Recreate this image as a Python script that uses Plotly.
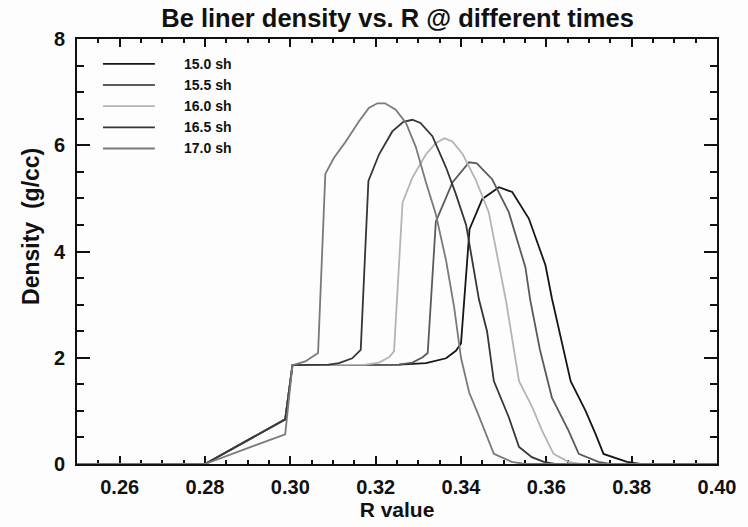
import plotly.graph_objects as go

# Be liner density profiles vs. radius at five times (shakes)
times = ["15.0 sh", "15.5 sh", "16.0 sh", "16.5 sh", "17.0 sh"]
colors = ["#161616", "#5a5a5a", "#b4b4b4", "#363636", "#7a7a7a"]

r_150 = [0.25, 0.28, 0.2988, 0.3005, 0.3255, 0.3318, 0.3365, 0.3388, 0.3400, 0.3420,
         0.3450, 0.3489, 0.3520, 0.3559, 0.3598, 0.3613, 0.3657, 0.3692, 0.3715, 0.3734,
         0.3789, 0.3820, 0.40]
d_150 = [0, 0, 0.84, 1.86, 1.87, 1.90, 1.99, 2.13, 2.27, 4.42,
         4.99, 5.21, 5.12, 4.62, 3.74, 3.12, 1.56, 1.00, 0.57, 0.19,
         0.04, 0, 0]

r_155 = [0.25, 0.28, 0.2988, 0.3005, 0.3255, 0.3286, 0.3310, 0.3322, 0.3341, 0.3380,
         0.3419, 0.3437, 0.3473, 0.3512, 0.3551, 0.3562, 0.3585, 0.3613, 0.3652, 0.3676,
         0.3722, 0.3750, 0.40]
d_155 = [0, 0, 0.84, 1.86, 1.87, 1.91, 2.01, 2.09, 4.56, 5.30,
         5.68, 5.66, 5.36, 4.74, 3.70, 3.10, 2.15, 1.25, 0.63, 0.19,
         0.04, 0, 0]

r_160 = [0.25, 0.28, 0.2988, 0.3005, 0.3176, 0.3208, 0.3231, 0.3243, 0.3263, 0.3286,
         0.3318, 0.3341, 0.3361, 0.3380, 0.3404, 0.3434, 0.3465, 0.3496, 0.3506, 0.3536,
         0.3567, 0.3590, 0.3617, 0.3652, 0.3680, 0.40]
d_160 = [0, 0, 0.84, 1.86, 1.87, 1.91, 2.01, 2.12, 4.92, 5.39,
         5.83, 6.04, 6.13, 6.07, 5.83, 5.36, 4.74, 3.50, 3.05, 1.56,
         1.07, 0.63, 0.19, 0.04, 0, 0]

r_165 = [0.25, 0.28, 0.2988, 0.3005, 0.3090, 0.3114, 0.3145, 0.3165, 0.3183, 0.3208,
         0.3239, 0.3265, 0.3286, 0.3305, 0.3333, 0.3365, 0.3388, 0.3412, 0.3442, 0.3461,
         0.3477, 0.3512, 0.3536, 0.3566, 0.3594, 0.3620, 0.40]
d_165 = [0, 0, 0.84, 1.86, 1.87, 1.90, 1.99, 2.15, 5.33, 5.83,
         6.26, 6.44, 6.48, 6.42, 6.17, 5.58, 5.08, 4.50, 3.10, 2.50,
         1.56, 0.88, 0.32, 0.13, 0.04, 0, 0]

r_170 = [0.25, 0.28, 0.2988, 0.3005, 0.3035, 0.3065, 0.3082, 0.3102, 0.3130, 0.3161,
         0.3184, 0.3204, 0.3222, 0.3247, 0.3271, 0.3294, 0.3318, 0.3341, 0.3365, 0.3384,
         0.3400, 0.3419, 0.3442, 0.3477, 0.3519, 0.3550, 0.40]
d_170 = [0, 0, 0.56, 1.86, 1.93, 2.09, 5.46, 5.76, 6.07, 6.45,
         6.70, 6.79, 6.79, 6.67, 6.42, 5.97, 5.30, 4.70, 3.83, 2.95,
         2.00, 1.35, 0.90, 0.19, 0.04, 0, 0]

radii = [r_150, r_155, r_160, r_165, r_170]
densities = [d_150, d_155, d_160, d_165, d_170]

FONT = "Liberation Sans, Arial, Helvetica, sans-serif"
INK = "#111"

fig = go.Figure()
for name, col, r, d in zip(times, colors, radii, densities):
    fig.add_trace(go.Scatter(x=r, y=d, mode="lines", name=name,
                             line=dict(color=col, width=1.8), showlegend=False))

# hand-drawn legend in the upper-left corner
leg_x0, leg_x1, leg_tx = 0.0406, 0.1217, 0.1638
leg_y0, leg_dy = 0.9416, 0.0498
for i, (name, col) in enumerate(zip(times, colors)):
    yy = leg_y0 - i * leg_dy
    fig.add_shape(type="line", xref="paper", yref="paper",
                  x0=leg_x0, x1=leg_x1, y0=yy, y1=yy,
                  line=dict(color=col, width=1.8))
    fig.add_annotation(xref="paper", yref="paper", x=leg_tx, y=yy,
                       text=name, showarrow=False, xanchor="left", yanchor="middle",
                       font=dict(family=FONT, size=14, color=INK, weight="bold"))

# y-axis title placed by hand
fig.add_annotation(xref="paper", yref="paper", x=-0.072, y=0.56,
                   text="Density  (g/cc)", textangle=-90, showarrow=False,
                   xanchor="center", yanchor="middle",
                   font=dict(family=FONT, size=23, color=INK, weight="bold"))

axis_common = dict(showline=True, linecolor=INK, linewidth=2, mirror="allticks",
                   ticks="inside", tickcolor=INK, tickwidth=2,
                   showgrid=False, zeroline=False, layer="below traces",
                   tickfont=dict(family=FONT, size=20, color=INK, weight="bold"))

fig.update_xaxes(range=[0.25, 0.40], tick0=0.26, dtick=0.02, tickformat=".2f",
                 ticklen=8, ticklabelstandoff=4,
                 minor=dict(ticks="inside", tick0=0.25, dtick=0.005, ticklen=4,
                            tickwidth=1.5, tickcolor=INK),
                 title=dict(text="R value", standoff=2,
                            font=dict(family=FONT, size=21, color=INK, weight="bold")),
                 **axis_common)
fig.update_yaxes(range=[0, 8], tick0=0, dtick=2, ticklen=13, ticklabelstandoff=6,
                 minor=dict(ticks="inside", tick0=0, dtick=0.5, ticklen=7,
                            tickwidth=1.5, tickcolor=INK),
                 **axis_common)

fig.update_layout(
    width=748, height=527,
    margin=dict(l=77, r=30, t=39, b=60),
    paper_bgcolor="#fdfdfd", plot_bgcolor="#fdfdfd",
    title=dict(text="Be liner density vs. R @ different times",
               x=0.5315, xanchor="center", y=0.966, yanchor="middle",
               font=dict(family=FONT, size=25.5, color=INK, weight="bold")),
)

fig.write_html("out.html")
